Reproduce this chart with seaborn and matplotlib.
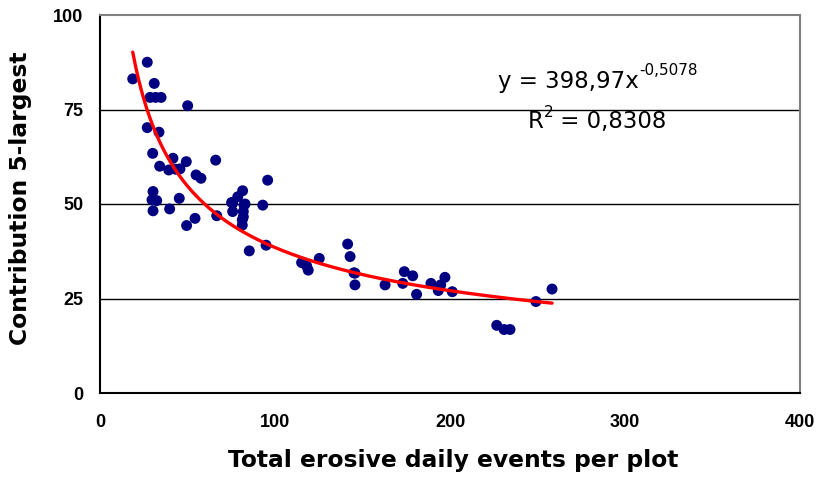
import numpy as np
import pandas as pd
import matplotlib
matplotlib.use("Agg")
import matplotlib.pyplot as plt
import seaborn as sns

# Total erosive daily events per plot vs. contribution of the 5 largest events (%)
events = [
    18.7, 27.0, 31.0, 28.6, 31.8, 34.9, 50.1, 27.0, 33.7, 30.1,
    41.7, 49.3, 66.1, 34.1, 39.3, 43.2, 54.9, 57.7, 95.8, 30.3,
    29.7, 32.4, 30.3, 39.8, 45.3, 81.5, 78.7, 75.8, 82.3, 75.8,
    81.9, 93.0, 54.3, 66.7, 81.9, 81.3, 81.3, 49.5, 85.3, 94.9,
    115.2, 118.1, 119.0, 125.3, 141.5, 142.9, 145.1, 145.7, 145.7, 162.9,
    173.9, 173.0, 178.7, 180.9, 189.1, 193.3, 197.1, 194.7, 201.3, 226.7,
    230.9, 234.3, 249.1, 258.3, 45.7, 75.2, 82.9,
]
contribution = [
    83.1, 87.5, 81.9, 78.2, 78.2, 78.2, 76.0, 70.2, 69.0, 63.4,
    62.1, 61.2, 61.6, 60.0, 59.0, 59.2, 57.7, 56.8, 56.3, 53.3,
    51.1, 50.9, 48.2, 48.7, 51.5, 53.5, 51.9, 50.2, 49.7, 48.0,
    48.0, 49.7, 46.2, 46.9, 46.6, 45.8, 44.4, 44.3, 37.6, 39.1,
    34.5, 33.6, 32.5, 35.6, 39.4, 36.1, 31.8, 31.7, 28.6, 28.6,
    32.1, 29.0, 31.0, 26.1, 29.0, 27.1, 30.6, 28.6, 26.8, 17.9,
    16.8, 16.8, 24.2, 27.5, 59.3, 50.4, 50.0,
]

# Power-law trend: y = a * x^b
fit_a = 398.97
fit_b = -0.5078
fit_r2 = 0.8308

x_ticks = [0, 100, 200, 300, 400]
y_ticks = [0, 25, 50, 75, 100]

df = pd.DataFrame({"events": events, "contribution": contribution})

sns.set_style("white")
plt.rcParams["font.family"] = ["Liberation Sans", "DejaVu Sans"]
plt.rcParams.update({
    "text.color": "black",
    "axes.labelcolor": "black",
    "xtick.color": "black",
    "ytick.color": "black",
})

fig = plt.figure(figsize=(8.16, 4.8), dpi=100)
ax = fig.add_axes([100 / 816, 1 - 393 / 480, 700 / 816, 378 / 480])

# Horizontal reference lines
for v in y_ticks[1:-1]:
    ax.axhline(v, color="black", lw=1.0, zorder=1)

sns.scatterplot(data=df, x="events", y="contribution", ax=ax,
                color="#000080", s=62, edgecolor="none", zorder=3, legend=False)

xs = np.linspace(min(events), max(events), 300)
trend = pd.DataFrame({"x": xs, "y": fit_a * xs ** fit_b})
sns.lineplot(data=trend, x="x", y="y", ax=ax, color="#ff0000", lw=2.4,
             zorder=4, legend=False)

ax.set_xlim(0, 400)
ax.set_ylim(0, 100)
ax.set_xticks(x_ticks)
ax.set_yticks(y_ticks)
ax.set_xticklabels([str(t) for t in x_ticks], fontsize=13, fontweight="bold")
ax.set_yticklabels([str(t) for t in y_ticks], fontsize=13, fontweight="bold")
ax.tick_params(axis="both", direction="out", length=5, width=1.2,
               color="black")
ax.tick_params(axis="x", pad=10)
ax.tick_params(axis="y", pad=7)

label_font = dict(family="DejaVu Sans", fontsize=16.8, fontweight="bold")
ax.set_xlabel("Total erosive daily events per plot", **label_font)
ax.set_ylabel("Contribution 5-largest", **label_font)
ax.xaxis.set_label_coords(0.504, -0.148)
ax.yaxis.set_label_coords(-0.097, 0.515)

for side in ("left", "bottom"):
    ax.spines[side].set_color("black")
    ax.spines[side].set_linewidth(1.5)
for side in ("top", "right"):
    ax.spines[side].set_visible(True)
    ax.spines[side].set_color("#808080")
    ax.spines[side].set_linewidth(1.5)

# Trend-line equation and coefficient of determination
a_txt = f"{fit_a:.2f}".replace(".", ",")
b_txt = f"{fit_b:.4f}".replace(".", ",")
r_txt = f"{fit_r2:.4f}".replace(".", ",")
eq_font = dict(family="DejaVu Sans", fontsize=16.5)
sup_font = dict(family="DejaVu Sans", fontsize=11)

eq = ax.text(0.569, 0.807, f"y = {a_txt}x", transform=ax.transAxes,
             ha="left", va="baseline", **eq_font)
ax.annotate(b_txt, xy=(1.0, 0.841), xycoords=(eq, "axes fraction"),
            ha="left", va="baseline", **sup_font)

r_main = ax.text(0.611, 0.702, "R", transform=ax.transAxes,
                 ha="left", va="baseline", **eq_font)
r_sup = ax.annotate("2", xy=(1.0, 0.731), xycoords=(r_main, "axes fraction"),
                    ha="left", va="baseline", **sup_font)
ax.annotate(f" = {r_txt}", xy=(1.0, 0.702), xycoords=(r_sup, "axes fraction"),
            ha="left", va="baseline", **eq_font)

fig.savefig("out.png", dpi=100)
